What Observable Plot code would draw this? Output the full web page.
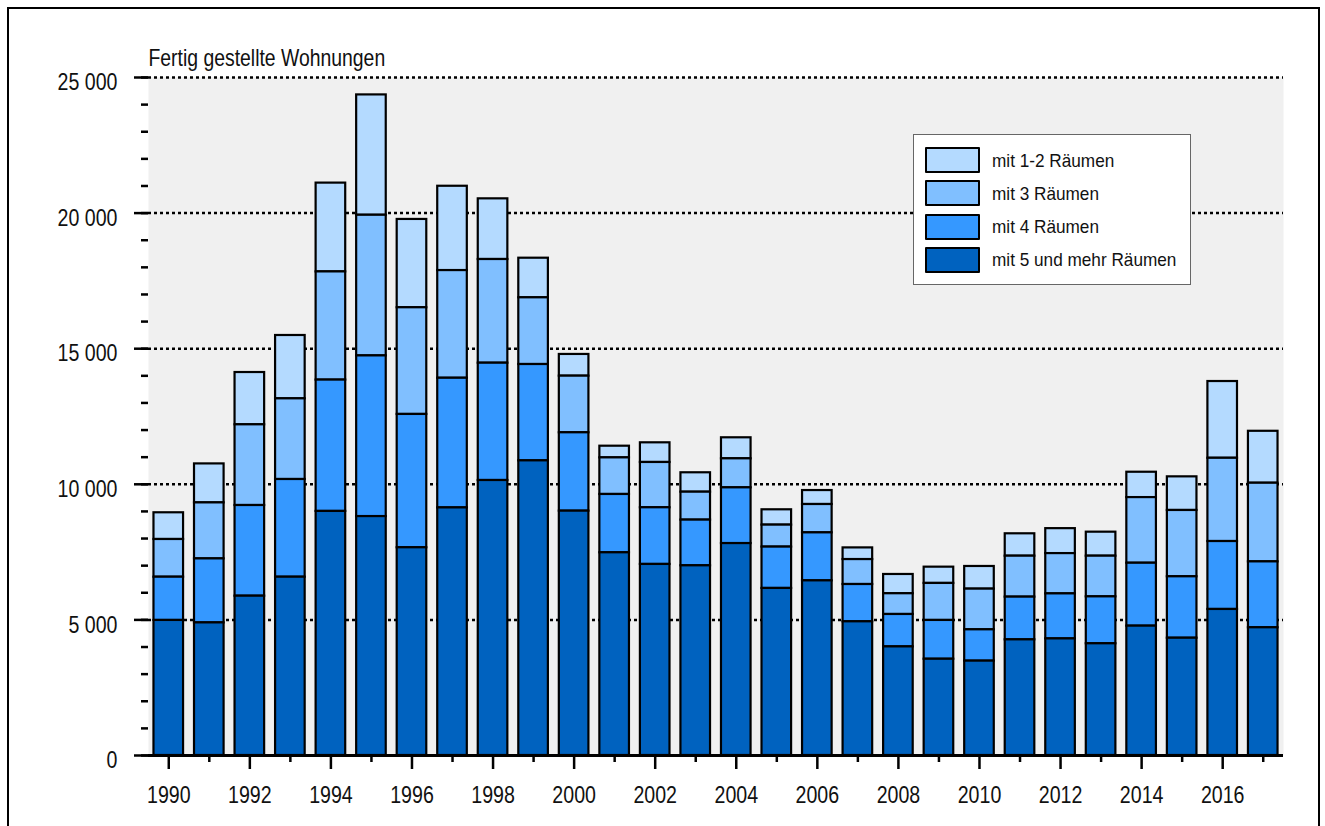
<!DOCTYPE html>
<html>
<head>
<meta charset="utf-8">
<script src="https://cdn.jsdelivr.net/npm/d3@7"></script>
<script src="https://cdn.jsdelivr.net/npm/@observablehq/plot@0.6"></script>
<style>
  html, body { margin: 0; padding: 0; background: #fff; overflow: hidden; width: 1325px; height: 826px; }
  #wrap { position: relative; width: 1325px; height: 826px; }
  #border { position: absolute; left: 7px; top: 7px; width: 1309px; height: 900px; border: 2px solid #000; pointer-events: none; }
  #legend { position: absolute; left: 913px; top: 134px; width: 276px; height: 149px; background: #fff; border: 1px solid #666; }
  .row { position: absolute; left: 11px; height: 26px; display: flex; align-items: center; }
  .sw { width: 51px; height: 22px; border: 2px solid #000; border-radius: 1px; }
  .lab { margin-left: 12px; color: #111; white-space: nowrap; transform: scaleY(1.1); transform-origin: left center; }
  text.stretched { transform-box: fill-box; transform-origin: center; transform: scaleY(1.2); }
</style>
</head>
<body>
<div id="wrap"><div id="chart"></div><div id="legend"></div><div id="border"></div></div>
<script>
const title = "Fertig gestellte Wohnungen";
const years = [1990,1991,1992,1993,1994,1995,1996,1997,1998,1999,2000,2001,2002,2003,2004,2005,2006,2007,2008,2009,2010,2011,2012,2013,2014,2015,2016,2017];
const categories = ["mit 1-2 Räumen", "mit 3 Räumen", "mit 4 Räumen", "mit 5 und mehr Räumen"];
const colors = ["#b4daff", "#80bfff", "#3598ff", "#0062bf"];
const rooms12 = [985,1437,1928,2335,3274,4437,3256,3109,2237,1460,800,430,725,715,775,565,515,430,710,600,835,825,920,885,935,1240,2830,1915];
const rooms3  = [1390,2065,2976,2975,3989,5186,3934,3970,3823,2460,2088,1350,1670,1030,1070,810,1045,920,765,1365,1500,1510,1485,1500,2420,2445,3070,2900];
const rooms4  = [1595,2360,3343,3602,4843,5925,4916,4781,4326,3552,2890,2150,2090,1685,2055,1525,1770,1375,1195,1430,1155,1575,1660,1730,2320,2265,2505,2430];
const rooms5  = [4980,4890,5875,6575,9000,8810,7660,9130,10140,10865,9010,7475,7045,6995,7815,6160,6440,4930,4005,3550,3480,4265,4300,4120,4770,4325,5385,4710];
const yMajorTicks = [0,5000,10000,15000,20000,25000];
const yMinorTicks = d3.range(0, 25001, 1000);
const yGridTicks = [5000,10000,15000,20000,25000];
const xLabelYears = years.filter(y => y % 2 === 0);
const xMinorYears = years.filter(y => y % 2 === 1);

const series = [rooms12, rooms3, rooms4, rooms5];
const data = years.flatMap((yr, i) => categories.map((c, j) => ({year: yr, cat: c, value: series[j][i]})));

const FONT = "'Liberation Sans', Arial, sans-serif";
const axisFont = 19.6, titleFont = 19.4, legendFont = 17.2;

const fmt = d3.formatLocale({decimal: ",", thousands: " ", grouping: [3], currency: ["", "€"]}).format(",d");
const blank = () => "";

const chart = Plot.plot({
  width: 1325, height: 826,
  marginLeft: 148, marginRight: 42, marginTop: 77, marginBottom: 71,
  style: {fontFamily: FONT, fontSize: axisFont + "px", background: "transparent", color: "#000"},
  x: {type: "band", domain: years, paddingInner: 0.27, paddingOuter: 0.135, round: false, axis: null, label: null},
  y: {domain: [0, 25000], axis: null, label: null},
  color: {domain: categories, range: colors},
  marks: [
    Plot.frame({fill: "#f0f0f0", stroke: null}),
    Plot.gridY(yGridTicks, {stroke: "#000", strokeOpacity: 1, strokeWidth: 2.5, strokeDasharray: "3,3"}),
    Plot.barY(data, {x: "year", y: "value", fill: "cat", stroke: "#000", strokeWidth: 2.2, order: [...categories].reverse()}),
    Plot.ruleY([0], {stroke: "#000", strokeWidth: 3}),
    Plot.ruleX([0], {x: () => 0, stroke: "#000", strokeWidth: 3, render: (index, scales, values, dims, ctx, next) => {
      const g = next(index, scales, values, dims, ctx);
      d3.select(g).selectAll("line").attr("x1", dims.marginLeft).attr("x2", dims.marginLeft)
        .attr("y1", dims.marginTop).attr("y2", dims.height - dims.marginBottom).attr("transform", null);
      return g;
    }}),
    Plot.axisY(yMinorTicks, {tickSize: 7, tickFormat: blank, strokeWidth: 2.5, label: null}),
    Plot.axisY(yMajorTicks, {tickSize: 14, tickFormat: blank, strokeWidth: 2.5, label: null}),
    Plot.axisY(yMajorTicks, {tickSize: 0, tickPadding: 31, tickFormat: fmt, fontSize: axisFont, dy: 5, fill: "#111", label: null}),
    Plot.axisX(xMinorYears, {tickSize: 7, tickFormat: blank, strokeWidth: 2.5, label: null}),
    Plot.axisX(xLabelYears, {tickSize: 14, tickFormat: blank, strokeWidth: 2.5, label: null}),
    Plot.axisX(xLabelYears, {tickSize: 0, tickPadding: 32, fontSize: axisFont, fill: "#111", label: null, tickFormat: d => String(d)}),
    Plot.text([title], {frameAnchor: "top-left", dy: -27, textAnchor: "start", fontSize: titleFont, fill: "#111"})
  ]
});
// stretch glyphs vertically (about their own centre) to mimic the taller source typeface
Array.from(chart.querySelectorAll("text")).forEach(t => {
  if (!t.textContent) return;
  const wrapG = document.createElementNS("http://www.w3.org/2000/svg", "g");
  const tr = t.getAttribute("transform");
  if (tr) { wrapG.setAttribute("transform", tr); t.removeAttribute("transform"); }
  t.parentNode.insertBefore(wrapG, t);
  wrapG.appendChild(t);
  t.classList.add("stretched");
});
document.getElementById("chart").appendChild(chart);

const legend = document.getElementById("legend");
categories.forEach((c, i) => {
  const row = document.createElement("div");
  row.className = "row";
  row.style.top = (12 + i * 33.3) + "px";
  const sw = document.createElement("div");
  sw.className = "sw";
  sw.style.background = colors[i];
  const lab = document.createElement("div");
  lab.className = "lab";
  lab.textContent = c;
  lab.style.fontFamily = FONT;
  lab.style.fontSize = legendFont + "px";
  row.appendChild(sw); row.appendChild(lab);
  legend.appendChild(row);
});
</script>
</body>
</html>
